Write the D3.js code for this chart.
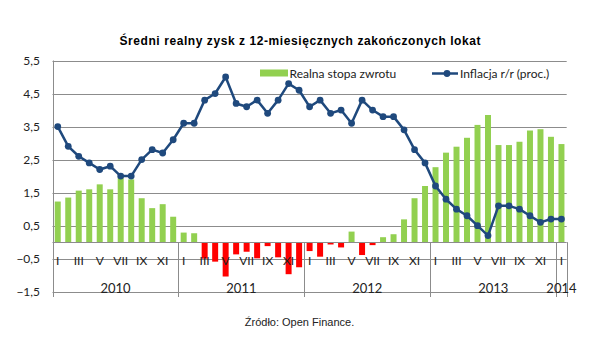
<!DOCTYPE html>
<html><head><meta charset="utf-8">
<script src="https://cdn.jsdelivr.net/npm/d3@7/dist/d3.min.js"></script>
<style>body{margin:0;background:#fff}svg{display:block}</style>
</head><body><svg id="c" width="596" height="364"></svg>
<script>
const monthLabels = ["I","","III","","V","","VII","","IX","","XI","",
  "I","","III","","V","","VII","","IX","","XI","",
  "I","","III","","V","","VII","","IX","","XI","",
  "I","","III","","V","","VII","","IX","","XI","",
  "I"];
const years = ["2010","2011","2012","2013","2014"];
const yearMonths = [12,12,12,12,1];
const realReturn = [1.23,1.35,1.56,1.6,1.75,1.6,1.94,1.9,1.33,1.03,1.15,0.77,
  0.29,0.27,-0.5,-0.59,-1.04,-0.37,-0.29,-0.49,-0.12,-0.46,-0.97,-0.76,
  -0.27,-0.44,-0.07,-0.16,0.32,-0.39,-0.09,0.15,0.24,0.69,1.33,1.7,
  2.27,2.71,2.89,3.16,3.55,3.85,2.94,2.94,3.04,3.38,3.42,3.19,2.97];
const inflation = [3.5,2.9,2.6,2.4,2.2,2.3,2.0,2.0,2.5,2.8,2.7,3.1,
  3.6,3.6,4.3,4.5,5.0,4.2,4.1,4.3,3.9,4.3,4.8,4.6,
  4.1,4.3,3.9,4.0,3.6,4.3,4.0,3.8,3.8,3.4,2.8,2.4,
  1.7,1.3,1.0,0.8,0.5,0.2,1.1,1.1,1.0,0.8,0.6,0.7,0.7];
const yTicks = [5.5,4.5,3.5,2.5,1.5,0.5,-0.5,-1.5];
const seriesNames = ["Realna stopa zwrotu","Inflacja r/r (proc.)"];
const titleText = "Średni realny zysk z 12-miesięcznych zakończonych lokat";
const sourceText = "Źródło: Open Finance.";

const svg = d3.select("#c");
svg.append("rect").attr("width",596).attr("height",364).attr("fill","#fff");
const X0 = 52.5, X1 = 566.7, YT = 60.5, YB = 291.7, AXB = 297;
const idx = d3.range(realReturn.length);
const x = d3.scaleBand().domain(idx).range([X0,X1]).paddingInner(0.43).paddingOuter(0.215);
const step = x.step();
const y = d3.scaleLinear().domain([-1.5,5.5]).range([YB,YT]);
const GRID = "#8c8c8c", GREEN = "#92d050", RED = "#ff0000", BLUE = "#1f497d";
const FONT = "Lato, 'Open Sans', sans-serif";

// gridlines
svg.append("g").selectAll("line").data(yTicks).join("line")
  .attr("x1",X0).attr("x2",X1).attr("y1",d=>Math.round(y(d))+0.5).attr("y2",d=>Math.round(y(d))+0.5)
  .attr("stroke",GRID).attr("stroke-width",1);

// y labels
svg.append("g").selectAll("text").data(yTicks).join("text")
  .attr("x",40).attr("y",d=>y(d)+4).attr("text-anchor","end")
  .attr("font-family",FONT).attr("font-size",12).attr("fill","#222")
  .text(d=>d3.format(".1f")(d).replace(".",","));

// bars
svg.append("g").selectAll("rect").data(idx).join("rect")
  .attr("x",i=>x(i)).attr("width",x.bandwidth())
  .attr("y",i=>y(Math.max(0,realReturn[i])))
  .attr("height",i=>Math.abs(y(realReturn[i])-y(0)))
  .attr("fill",i=>realReturn[i]>=0?GREEN:RED);

// zero axis line
svg.append("line").attr("x1",X0).attr("x2",X1).attr("y1",Math.round(y(0))+0.5).attr("y2",Math.round(y(0))+0.5)
  .attr("stroke",GRID).attr("stroke-width",1);

// left axis
svg.append("line").attr("x1",Math.round(X0)+0.5).attr("x2",Math.round(X0)+0.5).attr("y1",YT).attr("y2",AXB)
  .attr("stroke",GRID).attr("stroke-width",1);

// year dividers
let cum = 0; const bounds = [];
yearMonths.forEach(n=>{cum+=n; bounds.push(X0+cum*step);});
svg.append("g").selectAll("line").data(bounds).join("line")
  .attr("x1",d=>Math.round(d)+0.5).attr("x2",d=>Math.round(d)+0.5).attr("y1",y(0)).attr("y2",AXB)
  .attr("stroke",GRID).attr("stroke-width",1);

// month labels
svg.append("g").selectAll("text").data(idx).join("text")
  .attr("x",i=>x(i)+x.bandwidth()/2).attr("y",264.5).attr("text-anchor","middle")
  .attr("font-family",FONT).attr("font-size",12).attr("fill","#222")
  .text(i=>monthLabels[i]);

// year labels
let c2 = 0;
years.forEach((yr,k)=>{
  const a = X0+c2*step; c2+=yearMonths[k]; const b = X0+c2*step;
  svg.append("text").attr("x",(a+b)/2).attr("y",293).attr("text-anchor","middle")
    .attr("font-family",FONT).attr("font-size",13).attr("fill","#222").text(yr);
});

// line
const line = d3.line().x(i=>x(i)+x.bandwidth()/2).y(i=>y(inflation[i]));
svg.append("path").datum(idx).attr("d",line).attr("fill","none")
  .attr("stroke",BLUE).attr("stroke-width",2.5).attr("stroke-linejoin","round");
svg.append("g").selectAll("circle").data(idx).join("circle")
  .attr("cx",i=>x(i)+x.bandwidth()/2).attr("cy",i=>y(inflation[i])).attr("r",3.4).attr("fill",BLUE);

// legend
svg.append("rect").attr("x",260).attr("y",69.5).attr("width",28).attr("height",7).attr("fill",GREEN);
svg.append("text").attr("x",289.5).attr("y",77.5).attr("font-family",FONT).attr("font-size",12).attr("fill","#222").text(seriesNames[0]);
svg.append("line").attr("x1",432).attr("x2",458).attr("y1",73.5).attr("y2",73.5).attr("stroke",BLUE).attr("stroke-width",2.5);
svg.append("circle").attr("cx",447).attr("cy",73.5).attr("r",3.4).attr("fill",BLUE);
svg.append("text").attr("x",460).attr("y",77.5).attr("font-family",FONT).attr("font-size",12).attr("fill","#222").text(seriesNames[1]);

// title & source
svg.append("text").attr("x",300).attr("y",44.5).attr("text-anchor","middle")
  .attr("font-family","'Liberation Sans', Arial, sans-serif").attr("font-weight","bold").attr("font-size",12)
  .attr("textLength",361).attr("lengthAdjust","spacing").attr("fill","#000").text(titleText);
svg.append("text").attr("x",299.5).attr("y",326).attr("text-anchor","middle")
  .attr("font-family","'Liberation Sans', Arial, sans-serif").attr("font-size",11).attr("fill","#222").text(sourceText);
</script></body></html>
